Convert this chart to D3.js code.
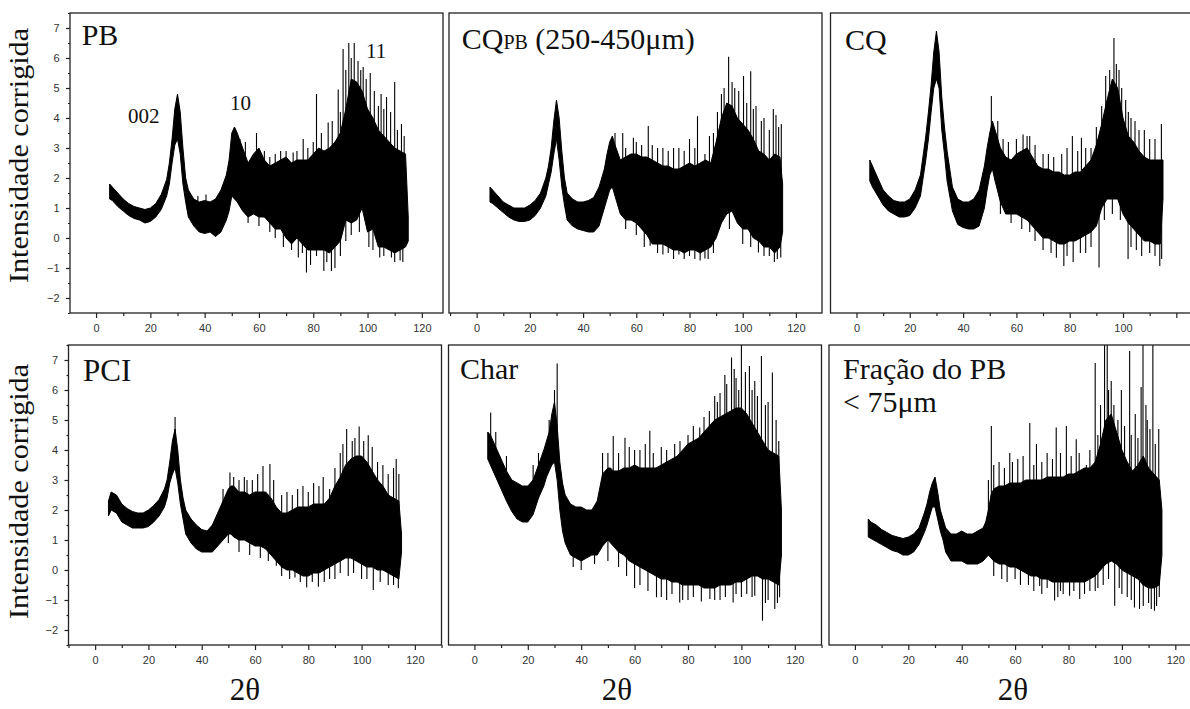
<!DOCTYPE html>
<html><head><meta charset="utf-8">
<script src="https://cdn.jsdelivr.net/npm/d3@7"></script>
<style>body{margin:0;background:#fff}svg{display:block}</style>
</head><body><svg id="c" width="1190" height="709"></svg>
<script>
// ---------- DATA ----------
const twoTheta = [5,6,8,10,12,14,16,18,20,22,24,26,27,28,29,30,31,32,33,34,36,38,40,42,44,46,48,49,50,51,52,54,56,58,60,62,64,66,68,70,72,74,76,78,80,82,84,86,88,90,92,94,96,98,100,102,104,106,108,110,112,114,115];

// PB
const pbHi = [1.8,1.7,1.5,1.3,1.15,1.05,1.0,0.95,1.0,1.15,1.45,1.95, 2.5,3.3,4.3,4.8,4.2,3.0,2.0,1.6, 1.3,1.2,1.25,1.2,1.3,1.6,2.1, 2.6,3.5,3.7,3.5, 3.0,2.5,2.8,3.0,2.6,2.4,2.5,2.6,2.7,2.5,2.6,2.6,2.6,2.8,3.0,2.9,3.0,3.2,3.5,4.3,5.3,5.2,4.9,4.3,4.0,3.6,3.4,3.2,3.0,2.9,2.8, 0.7];
const pbLo = [1.3,1.25,1.05,0.9,0.75,0.65,0.6,0.5,0.55,0.7,0.95,1.4, 1.8,2.5,3.1,3.3,2.8,1.8,1.2,0.7, 0.4,0.2,0.15,0.2,0.05,0.2,0.6, 0.9,1.4,1.3,1.2, 0.9,0.7,0.8,0.7,0.7,0.5,0.3,0.3,0.0,-0.2,0.0,-0.2,-0.4,-0.4,-0.4,-0.4,-0.5,-0.3,-0.1,0.6,0.5,0.6,1.0,0.2,0.3,-0.3,-0.3,-0.4,-0.5,-0.4,-0.3, -0.1];
const pbSpikes = [[37.5,1.4],[40.5,1.45],[53,3.3],[55,3.2],[59.1,3.5],[62,2.9],[64,2.7],[66,2.8],[68,2.9],[70,2.9],[72.6,2.85],[74,2.9],[76.3,3.3],[78,3.0],[80,3.2],[81.2,4.8],[83,3.5],[85.5,3.85],[87,3.9],[89.2,4.95],[90,4.2],[91,6.3],[92,5.6],[93.1,6.5],[94,6.0],[95.1,6.5],[96.5,5.9],[97.5,5.6],[98.4,5.7],[99.5,5.3],[101,5.5],[102.5,4.9],[104,4.4],[105,4.8],[106,4.3],[107,4.7],[108.5,4.2],[110,5.2],[111,3.6],[112.5,3.8],[113.5,3.4],
  [56,0.5],[60,0.4],[64,0.2],[66,0.0],[69,-0.3],[72,-0.4],[74.5,-0.65],[76,-0.5],[77.5,-1.15],[79,-0.9],[81.2,-0.6],[83.9,-1.1],[85,-0.8],[86.7,-1.1],[88,-1.0],[90,-0.6],[92,-0.1],[94,0.1],[97,0.2],[100.5,-0.3],[102,-0.4],[104.5,-0.65],[106,-0.6],[108.8,-0.65],[110,-0.8],[112,-0.75],[113,-0.8]];

// CQ_PB (250-450 um)
const cqpbHi = [1.7,1.6,1.4,1.2,1.1,1.0,1.0,1.0,1.1,1.25,1.5,2.0, 2.4,3.0,3.9,4.6,4.0,2.9,2.0,1.5, 1.3,1.2,1.2,1.25,1.35,1.7,2.3, 2.8,3.2,3.4,3.1, 2.6,2.7,2.8,2.8,2.7,2.7,2.6,2.5,2.4,2.4,2.3,2.3,2.4,2.5,2.4,2.5,2.6,2.5,3.2,4.0,4.5,4.4,4.0,3.8,3.6,3.3,2.9,2.8,2.6,2.8,2.7, 1.8];
const cqpbLo = [1.2,1.15,1.0,0.85,0.7,0.6,0.55,0.55,0.6,0.75,1.0,1.4, 1.8,2.2,2.8,3.3,2.6,1.7,1.1,0.6, 0.4,0.3,0.25,0.2,0.2,0.4,1.0, 1.3,1.6,1.7,1.4, 0.8,0.6,0.6,0.5,0.3,0.1,-0.2,-0.2,-0.2,-0.3,-0.4,-0.4,-0.5,-0.4,-0.4,-0.5,-0.4,-0.3,0.0,0.5,0.8,0.9,0.5,0.3,0.3,0.0,-0.1,-0.3,-0.3,-0.5,-0.3, 0.2];
const cqpbSpikes = [[52,3.5],[54.9,3.5],[56,3.0],[58.9,3.34],[60,3.2],[62,3.1],[64.5,3.73],[66,3.1],[68,3.0],[70,3.0],[72,2.9],[74,3.0],[76,3.0],[78,2.9],[80,3.3],[82,3.0],[83,4.06],[85.8,2.8],[87.5,3.4],[89,3.5],[90.5,4.2],[92,4.8],[93,5.0],[94.7,6.04],[96,5.2],[97,5.0],[98.5,4.9],[100.3,5.4],[101.5,4.5],[103,5.56],[104,4.3],[105,4.4],[107,3.9],[108,4.0],[110,3.6],[111.5,4.3],[112.5,4.1],[113.5,3.7],[114.5,3.8],
  [56,0.3],[60,0.1],[63,-0.3],[65.2,-0.26],[68,-0.5],[70,-0.55],[72,-0.5],[74,-0.7],[76,-0.55],[78,-0.7],[80,-0.6],[82,-0.7],[84,-0.75],[85.8,-0.68],[87,-0.7],[89,-0.5],[95,0.3],[100,-0.2],[103,-0.3],[105.9,-0.48],[108,-0.6],[110,-0.6],[111.9,-0.8],[113,-0.7],[114.3,-0.65]];

// CQ
const cqHi = [2.6,2.4,2.0,1.6,1.4,1.25,1.2,1.2,1.3,1.6,2.1,3.4, 4.2,5.1,6.2,6.9,6.2,4.7,3.7,2.9, 1.7,1.3,1.2,1.2,1.3,1.6,2.4, 3.0,3.5,3.9,3.6, 3.0,2.7,2.6,2.8,2.9,3.0,2.7,2.4,2.3,2.3,2.2,2.2,2.1,2.1,2.2,2.2,2.4,2.6,3.1,3.8,4.6,5.3,5.0,4.0,3.4,3.2,2.9,2.7,2.6,2.6,2.6, 2.6];
const cqLo = [1.9,1.7,1.4,1.1,0.9,0.8,0.7,0.7,0.75,1.0,1.4,2.6, 3.3,4.2,5.0,5.3,5.0,3.6,2.8,1.9, 0.9,0.45,0.35,0.3,0.3,0.4,1.0, 1.6,2.1,2.3,1.9, 1.2,0.8,0.8,0.8,0.7,0.6,0.4,0.2,0.0,0.0,-0.1,-0.2,-0.2,-0.1,-0.1,0.0,0.1,0.2,0.4,1.0,1.3,1.3,1.3,0.8,0.5,0.3,0.1,-0.1,-0.1,-0.2,-0.2, 1.3];
const cqSpikes = [[50.6,4.73],[53,3.9],[55,3.3],[57,3.2],[60,3.3],[62.5,3.45],[64,3.4],[65,3.4],[67,3.1],[70,2.8],[72,2.8],[74,2.7],[77,2.8],[79,3.0],[81,3.4],[83,2.9],[84.4,3.34],[86,3.0],[88,3.0],[90,3.7],[92,4.4],[93.5,5.4],[95,5.6],[96.6,6.67],[97.5,5.8],[98.5,5.6],[99.5,5.0],[101,4.6],[102,4.2],[103,4.0],[104.5,3.9],[106,3.6],[108,3.6],[110,3.3],[112,3.3],[114.4,3.8],
  [54,0.8],[58,0.5],[62,0.3],[65,0.2],[67,-0.1],[70,-0.4],[73,-0.5],[75,-0.66],[77.8,-0.93],[79,-0.6],[81.3,-0.8],[84,-0.5],[86,-0.5],[88,-0.3],[91,-0.98],[93,0.6],[96,0.8],[99,0.6],[101.9,-0.7],[103,-0.3],[105,-0.4],[107,-0.6],[110,-0.5],[112,-0.6],[113.8,-0.93],[114.5,-0.7]];

// PCI
const pciHi = [2.3,2.6,2.5,2.2,2.05,1.95,1.9,1.9,2.0,2.15,2.35,2.7, 3.0,3.6,4.3,4.7,4.0,3.0,2.4,2.0, 1.7,1.5,1.35,1.3,1.5,1.9,2.3, 2.5,2.7,2.8,2.8, 2.6,2.6,2.5,2.6,2.6,2.6,2.4,2.1,1.9,1.9,2.0,2.1,2.1,2.1,2.2,2.2,2.2,2.4,2.8,3.1,3.5,3.7,3.8,3.8,3.6,3.3,3.0,2.8,2.5,2.4,2.3, 1.2];
const pciLo = [1.8,2.0,1.9,1.6,1.5,1.4,1.4,1.4,1.45,1.6,1.8,2.1, 2.4,2.9,3.2,3.4,2.9,2.2,1.7,1.2, 0.9,0.7,0.6,0.6,0.6,0.8,1.0, 1.1,1.2,1.2,1.1, 1.0,1.0,0.9,0.8,0.8,0.7,0.5,0.3,0.1,0.0,0.0,-0.1,-0.2,-0.2,-0.1,-0.1,0.0,0.1,0.2,0.3,0.4,0.4,0.3,0.2,0.1,0.1,0.0,0.0,-0.1,-0.2,-0.3, 0.6];
const pciSpikes = [[30,5.1],[48,2.7],[50.6,3.25],[52,3.1],[54,3.0],[56,3.1],[57,3.0],[59,3.0],[61,3.2],[63,3.47],[65.6,3.53],[67,3.0],[70,2.5],[72,2.6],[74,2.5],[76,2.7],[78,2.8],[80,2.6],[82,2.9],[84,2.8],[85.6,3.1],[88,2.7],[90,3.4],[92,3.9],[93,4.2],[94.4,4.7],[96.5,4.3],[97.5,4.4],[99.1,4.78],[100.8,4.3],[102.5,4.49],[104,4.1],[106,3.6],[108,3.5],[110,3.2],[112,3.4],[113,3.7],[114,3.2],
  [50,0.9],[54,0.6],[58,0.5],[62,0.4],[65,0.3],[68,0.14],[70,-0.2],[73,-0.3],[75,-0.25],[77,-0.4],[79.4,-0.58],[81.5,-0.4],[83.8,-0.56],[86,-0.4],[88,-0.3],[90,-0.3],[92,-0.1],[95,-0.2],[97,-0.1],[100,-0.3],[102,-0.3],[104.4,-0.67],[107,-0.4],[110,-0.5],[112,-0.5],[113.8,-0.61]];

// Char
const charHi = [4.6,4.5,4.1,3.7,3.3,3.0,2.9,2.8,2.8,3.0,3.5,4.0, 4.3,4.6,5.2,5.6,4.8,3.6,2.9,2.5, 2.2,2.1,2.1,2.0,2.0,2.3,3.2, 3.3,3.4,3.4,3.3, 3.3,3.4,3.4,3.5,3.4,3.4,3.4,3.4,3.5,3.6,3.7,3.8,4.0,4.2,4.3,4.4,4.6,4.8,5.0,5.1,5.2,5.3,5.4,5.4,5.2,4.9,4.6,4.3,4.0,3.9,3.8, 2.0];
const charLo = [3.7,3.5,3.1,2.7,2.3,1.95,1.7,1.6,1.6,1.85,2.4,2.8, 3.1,3.3,3.5,3.6,3.0,2.0,1.3,0.9, 0.5,0.4,0.3,0.4,0.5,0.5,0.8, 0.9,1.0,0.9,0.8, 0.6,0.5,0.3,0.2,0.1,0.0,-0.1,-0.2,-0.3,-0.3,-0.4,-0.4,-0.5,-0.5,-0.5,-0.5,-0.6,-0.6,-0.6,-0.5,-0.5,-0.5,-0.4,-0.4,-0.3,-0.2,-0.2,-0.3,-0.3,-0.4,-0.5, 0.5];
const charSpikes = [[6.1,5.25],[8,4.6],[12,3.8],[22,3.5],[24,3.9],[28,5.0],[30,6.0],[31,6.88],[48,3.9],[50,3.9],[52,4.47],[54,3.9],[56.4,4.41],[58,4.1],[60,4.0],[62,4.0],[64,4.2],[65.7,4.64],[67,3.9],[70,4.1],[72,4.0],[75,4.2],[77,4.3],[80,4.5],[82,4.8],[84.4,4.75],[86,5.1],[88,5.3],[90,5.8],[91,5.6],[92,5.9],[93.8,6.5],[94.5,6.2],[96.3,7.08],[97.3,6.7],[98,6.4],[99,6.0],[100,7.5],[101.5,6.6],[103,6.8],[104,6.0],[105,6.3],[106,5.8],[107.5,7.13],[109,5.5],[110,5.6],[111.6,6.58],[113,5.0],[114,4.3],
  [37,0.1],[40,0.0],[45,0.2],[50,0.3],[54,0.1],[57,-0.2],[60,-0.6],[62,-0.5],[65,-0.7],[68.2,-0.91],[70,-0.9],[72,-1.0],[74,-0.8],[76.9,-1.08],[78,-1.0],[80,-1.0],[82,-0.9],[85,-1.05],[88.2,-0.97],[90,-1.0],[92,-1.0],[94,-0.9],[96.9,-1.08],[98,-0.8],[100,-0.9],[102,-0.8],[104,-0.9],[105,-0.86],[107.9,-1.69],[109,-1.1],[110,-1.0],[112.5,-1.3],[113.5,-1.1],[114.3,-0.91]];

// Fracao do PB < 75 um
const fracHi = [1.7,1.6,1.5,1.35,1.25,1.15,1.1,1.05,1.1,1.2,1.4,1.9, 2.2,2.6,2.9,3.1,2.6,2.0,1.7,1.4, 1.2,1.2,1.3,1.2,1.2,1.3,1.4, 1.6,2.0,2.5,2.7, 2.8,2.8,2.9,2.9,2.9,3.0,3.0,3.0,3.0,3.1,3.1,3.1,3.1,3.2,3.2,3.3,3.4,3.4,3.6,4.2,5.0,5.2,4.6,4.0,3.6,3.3,3.5,3.8,3.4,3.2,3.0, 2.0];
const fracLo = [1.1,1.05,0.95,0.85,0.75,0.65,0.6,0.5,0.5,0.6,0.85,1.25, 1.5,1.8,2.1,2.1,1.7,1.3,1.0,0.6, 0.3,0.3,0.3,0.2,0.2,0.2,0.3, 0.4,0.5,0.4,0.3, 0.2,0.2,0.1,0.1,0.0,-0.1,-0.2,-0.2,-0.3,-0.3,-0.4,-0.4,-0.4,-0.4,-0.4,-0.4,-0.4,-0.3,-0.2,0.0,0.2,0.3,0.2,0.0,-0.1,-0.2,-0.3,-0.5,-0.6,-0.6,-0.5, 0.5];
const fracSpikes = [[50,3.0],[51.1,4.8],[52,3.5],[54,3.6],[56,3.4],[58,3.9],[59,3.6],[61,3.7],[63,3.8],[65.5,4.9],[67,3.5],[68,4.2],[70,3.6],[72,3.9],[74,3.7],[75.4,4.75],[77,3.9],[79.2,4.8],[81,3.8],[82.9,4.36],[84,3.9],[86.7,3.5],[88,4.0],[90,6.9],[91,4.5],[92,5.5],[93.5,7.5],[94.5,7.5],[95,6.0],[96,6.3],[97,5.5],[98.5,5.0],[99.8,6.0],[101,4.8],[102.9,7.3],[103.5,4.5],[105,5.2],[106,4.4],[107.2,6.1],[107.9,7.5],[109,5.5],[109.5,5.0],[110.5,4.7],[111.6,7.5],[112.5,4.2],[113.8,4.7],
  [52,-0.2],[55,-0.3],[57,-0.4],[60,-0.3],[62,-0.5],[65,-0.5],[67,-0.7],[69.2,-0.53],[70,-0.8],[72,-0.6],[74.8,-1.02],[76,-0.9],[77,-0.7],[78,-0.8],[80.4,-0.86],[82,-0.7],[84.2,-0.97],[86,-0.8],[88,-0.7],[90,-0.7],[91,-0.6],[93,-0.5],[95,-0.3],[97.3,-1.19],[99,-0.6],[100,-0.8],[102,-0.9],[103.5,-1.0],[104.7,-1.25],[106.6,-1.3],[108,-1.2],[110,-1.1],[111,-1.3],[112.2,-1.36],[113,-1.2],[114,-0.9]];

const xTickValues = [0,20,40,60,80,100,120];
const xMinorValues = [-10,10,30,50,70,90,110,130];
const yTickValues = [-2,-1,0,1,2,3,4,5,6,7];
const yMinorValues = [-2.5,-1.5,-0.5,0.5,1.5,2.5,3.5,4.5,5.5,6.5,7.5];

// ---------- LAYOUT ----------
const W = 373, H = 300;
const serif = '"Liberation Serif","Times New Roman",serif';
const sans = '"Liberation Sans",Arial,sans-serif';
const panels = [
  {hi:pbHi, lo:pbLo, spikes:pbSpikes, left:70, top:13, xDom:[-9.6,127.8], yAxis:true, hideLast:false},
  {hi:cqpbHi, lo:cqpbLo, spikes:cqpbSpikes, left:449, top:13, xDom:[-10.4,129.8], yAxis:false, hideLast:false},
  {hi:cqHi, lo:cqLo, spikes:cqSpikes, left:830.5, top:13, xDom:[-9.75,130.2], yAxis:false, hideLast:true},
  {hi:pciHi, lo:pciLo, spikes:pciSpikes, left:68.5, top:345, xDom:[-10,130], yAxis:true, hideLast:false},
  {hi:charHi, lo:charLo, spikes:charSpikes, left:448.5, top:345, xDom:[-9.7,130], yAxis:false, hideLast:false},
  {hi:fracHi, lo:fracLo, spikes:fracSpikes, left:829, top:345, xDom:[-9.7,130], yAxis:false, hideLast:false}
];

const svg = d3.select('#c');
svg.append('rect').attr('width',1190).attr('height',709).attr('fill','#fff');

panels.forEach((p, i) => {
  const g = svg.append('g').attr('transform', `translate(${p.left},${p.top})`);
  const x = d3.scaleLinear().domain(p.xDom).range([0, W]);
  const y = d3.scaleLinear().domain([-2.5, 7.5]).range([H, 0]);
  const clipId = 'clip' + i;
  g.append('clipPath').attr('id', clipId).append('rect').attr('width', W).attr('height', H);
  const plot = g.append('g').attr('clip-path', `url(#${clipId})`);

  const rows = twoTheta.map((t, k) => ({t, hi: p.hi[k], lo: p.lo[k]}));
  plot.append('path').datum(rows)
    .attr('d', d3.area().x(d => x(d.t)).y0(d => y(d.lo)).y1(d => y(d.hi)))
    .attr('fill', '#000').attr('stroke', '#000').attr('stroke-width', 1).attr('stroke-linejoin', 'round');

  const bis = d3.bisector(d => d.t).left;
  const mid = xv => {
    let k = Math.max(1, Math.min(rows.length - 1, bis(rows, xv)));
    const a = rows[k - 1], b = rows[k];
    const f = (xv - a.t) / (b.t - a.t);
    const m0 = (a.hi + a.lo) / 2, m1 = (b.hi + b.lo) / 2;
    return m0 + f * (m1 - m0);
  };
  plot.selectAll('line.spike').data(p.spikes).join('line').attr('class', 'spike')
    .attr('x1', d => x(d[0])).attr('x2', d => x(d[0]))
    .attr('y1', d => y(mid(d[0]))).attr('y2', d => y(d[1]))
    .attr('stroke', '#000').attr('stroke-width', 1.1);

  // frame
  g.append('rect').attr('width', W).attr('height', H).attr('fill', 'none')
    .attr('stroke', '#222').attr('stroke-width', 1.3);

  // x axis
  const inX = v => v >= p.xDom[0] && v <= p.xDom[1];
  const xa = g.append('g').attr('transform', `translate(0,${H})`)
    .call(d3.axisBottom(x).tickValues(xTickValues.filter(inX)).tickSize(5).tickPadding(6)
      .tickFormat(d => (p.hideLast && d === 120) ? '' : d3.format('d')(d)));
  const xm = g.append('g').attr('transform', `translate(0,${H})`)
    .call(d3.axisBottom(x).tickValues(xMinorValues.filter(inX)).tickSize(3).tickFormat(''));
  [xa, xm].forEach(a => {
    a.select('.domain').remove();
    a.selectAll('line').attr('stroke', '#222').attr('stroke-width', 1.2);
    a.selectAll('text').attr('font-family', sans).attr('font-size', 11).attr('fill', '#333');
  });

  if (p.yAxis) {
    const ya = g.append('g')
      .call(d3.axisLeft(y).tickValues(yTickValues).tickSize(4).tickPadding(6.5).tickFormat(d3.format('d')));
    const ym = g.append('g')
      .call(d3.axisLeft(y).tickValues(yMinorValues).tickSize(2).tickFormat(''));
    [ya, ym].forEach(a => {
      a.select('.domain').remove();
      a.selectAll('line').attr('stroke', '#222').attr('stroke-width', 1.2);
      a.selectAll('text').attr('font-family', sans).attr('font-size', 11).attr('fill', '#333');
    });
  }
});

// ---------- TEXT ----------
const txt = (s, xPos, yPos, size) => svg.append('text').attr('x', xPos).attr('y', yPos)
  .attr('font-family', serif).attr('font-size', size).attr('fill', '#111').text(s);

txt('PB', 81.7, 45, 30);
txt('002', 128, 123, 21);
txt('10', 230, 110, 21);
txt('11', 366, 58, 21);
const cq = svg.append('text').attr('x', 461.7).attr('y', 49).attr('font-family', serif).attr('fill', '#111');
cq.append('tspan').attr('font-size', 30).text('CQ');
cq.append('tspan').attr('font-size', 20).text('PB');
cq.append('tspan').attr('font-size', 30).text(' (250-450μm)');
txt('CQ', 845, 50, 30);
txt('PCI', 83, 380.5, 31);
txt('Char', 460, 379, 30);
txt('Fração do PB', 843, 379, 30);
txt('< 75μm', 843, 411.5, 30);

[155.5, 491.5].forEach(cy => {
  svg.append('text').attr('transform', `translate(28,${cy}) rotate(-90)`)
    .attr('text-anchor', 'middle').attr('font-family', serif).attr('font-size', 27)
    .attr('textLength', 255).attr('lengthAdjust', 'spacingAndGlyphs')
    .attr('fill', '#111').text('Intensidade corrigida');
});
[245, 617, 1013].forEach(cx => {
  svg.append('text').attr('x', cx).attr('y', 700).attr('text-anchor', 'middle')
    .attr('font-family', serif).attr('font-size', 31).attr('fill', '#111').text('2θ');
});
</script>
</body></html>
